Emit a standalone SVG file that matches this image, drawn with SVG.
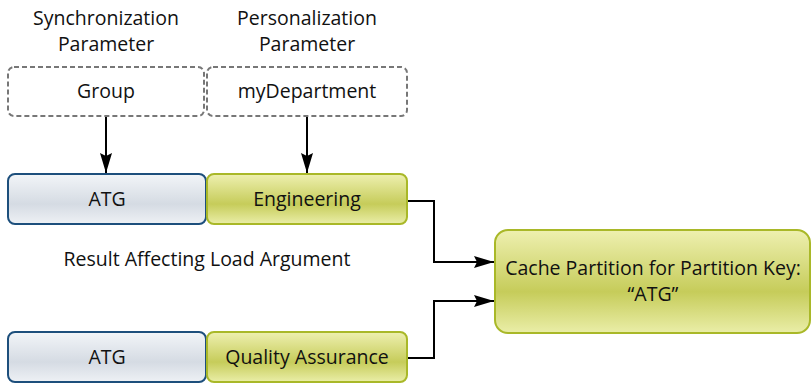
<svg xmlns="http://www.w3.org/2000/svg" width="812" height="383" viewBox="0 0 812 383">
<defs>
<linearGradient id="gBlue" x1="0" y1="0" x2="0" y2="1">
<stop offset="0" stop-color="#f2f5f8"/>
<stop offset="0.6" stop-color="#d5dbe3"/>
<stop offset="1" stop-color="#eef1f5"/>
</linearGradient>
<linearGradient id="gGreen" x1="0" y1="0" x2="0" y2="1">
<stop offset="0" stop-color="#eef0b0"/>
<stop offset="0.6" stop-color="#c6cc5a"/>
<stop offset="1" stop-color="#eaeea8"/>
</linearGradient>
<marker id="arr" viewBox="0 0 20 12" refX="20" refY="6" markerWidth="20" markerHeight="12" markerUnits="userSpaceOnUse" orient="auto">
<path d="M0,0 L20,6 L0,12 L3,6 Z" fill="#000"/>
</marker>
</defs>
<style>
text{font-family:"Open Sans","Noto Sans","DejaVu Sans",sans-serif;font-size:19.5px;fill:#111;text-anchor:middle}
.dash{fill:#fff;stroke:#777;stroke-width:2;stroke-dasharray:5,3}
.blue{fill:url(#gBlue);stroke:#1d4f7c;stroke-width:2}
.green{fill:url(#gGreen);stroke:#a9b828;stroke-width:2}
.conn{fill:none;stroke:#000;stroke-width:2}
.nt{font-weight:500}
</style>
<g id="labels">
<text x="106" y="25">Synchronization</text>
<text x="106" y="51">Parameter</text>
<text x="307" y="25">Personalization</text>
<text x="307" y="51">Parameter</text>
<text x="207" y="266">Result Affecting Load Argument</text>
</g>
<g id="node-group"><rect class="dash" x="8" y="67" width="196" height="49" rx="6"/><text x="106" y="98">Group</text></g>
<g id="node-mydepartment"><rect class="dash" x="207" y="67" width="200" height="49" rx="6"/><text x="307" y="98">myDepartment</text></g>
<g id="node-atg1"><rect class="blue" x="8" y="174" width="198" height="50" rx="7"/><text class="nt" x="107" y="206">ATG</text></g>
<g id="node-engineering"><rect class="green" x="207" y="174" width="200" height="50" rx="7"/><text class="nt" x="307" y="206">Engineering</text></g>
<g id="node-atg2"><rect class="blue" x="8" y="332" width="198" height="50" rx="7"/><text class="nt" x="107" y="364">ATG</text></g>
<g id="node-qa"><rect class="green" x="207" y="332" width="200" height="50" rx="7"/><text class="nt" x="307" y="364">Quality Assurance</text></g>
<g id="node-cache"><rect class="green" x="495" y="230" width="315" height="103" rx="13"/><text class="nt" x="653" y="275">Cache Partition for Partition Key:</text><text class="nt" x="653" y="301">“ATG”</text></g>
<g id="connectors">
<path class="conn" d="M106,117 V173" marker-end="url(#arr)"/>
<path class="conn" d="M307,117 V173" marker-end="url(#arr)"/>
<path class="conn" d="M408,201 H434 V262 H494" marker-end="url(#arr)"/>
<path class="conn" d="M408,358 H434 V301 H494" marker-end="url(#arr)"/>
</g>
</svg>
